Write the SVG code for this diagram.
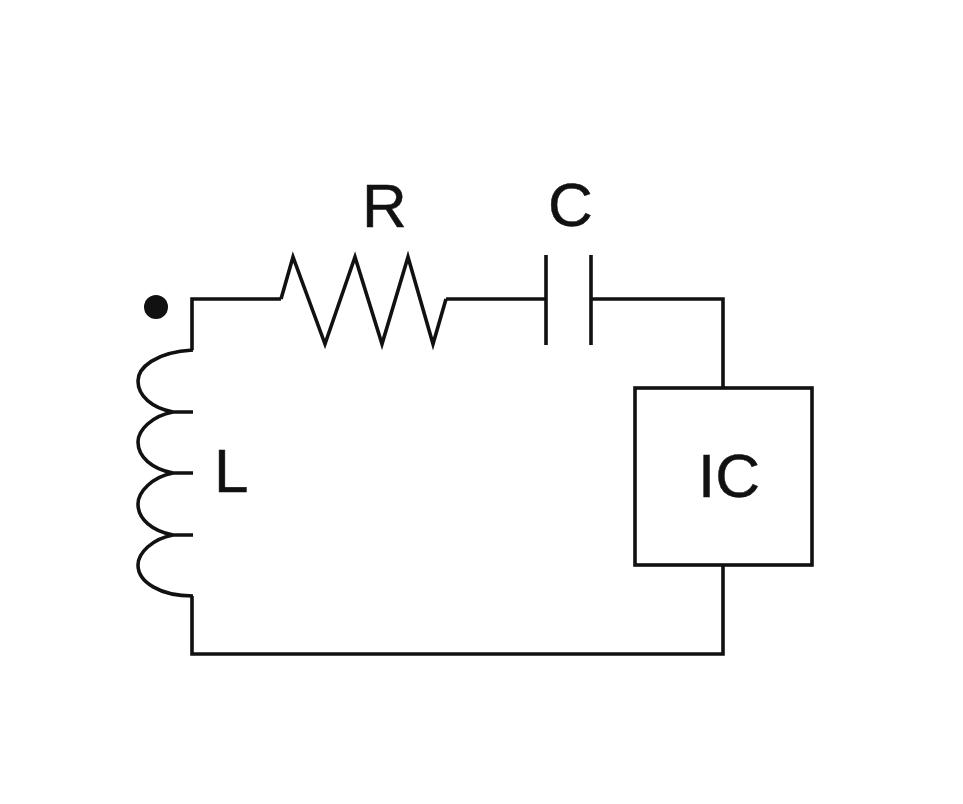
<svg xmlns="http://www.w3.org/2000/svg" width="963" height="804" viewBox="0 0 963 804">
<style>
.w{fill:none;stroke:#111;stroke-width:3.600;stroke-linejoin:miter}
.t{font-family:"Liberation Sans",Arial,sans-serif;font-size:62px;fill:#111;stroke:#111;stroke-width:0.500}
</style>
<rect width="963" height="804" fill="#fff"/>
<g id="connectors">
<path class="w" d="M192 350V299H281"/>
<path class="w" d="M446 299H546"/>
<path class="w" d="M591 299H723V388"/>
<path class="w" d="M723 565V654H192V596"/>
</g>
<g id="terminal"><circle cx="156" cy="307" r="12" fill="#111"/></g>
<g id="inductor-L">
<path class="w" d="M193 350C155 352 138 368 138 381C138 396 152 408 173 412H193M173 412C152 416 138 430 138 442C138 457 152 469 173 473H193M173 473C152 477 138 492 138 504C138 519 152 531 173 535H193M173 535C152 539 138 553 138 565C138 582 160 596 193 596"/>
<text class="t" x="214" y="492">L</text>
</g>
<g id="resistor-R">
<path class="w" d="M281 299L293 257L325 344L355 257L382 344L408 257L433 344L446 299"/>
<text class="t" x="362" y="227">R</text>
</g>
<g id="capacitor-C">
<path class="w" d="M546 255V345M591 255V345"/>
<text class="t" x="548" y="226">C</text>
</g>
<g id="ic">
<rect class="w" x="635" y="388" width="177" height="177"/>
<text class="t" x="698" y="497">IC</text>
</g>
</svg>
